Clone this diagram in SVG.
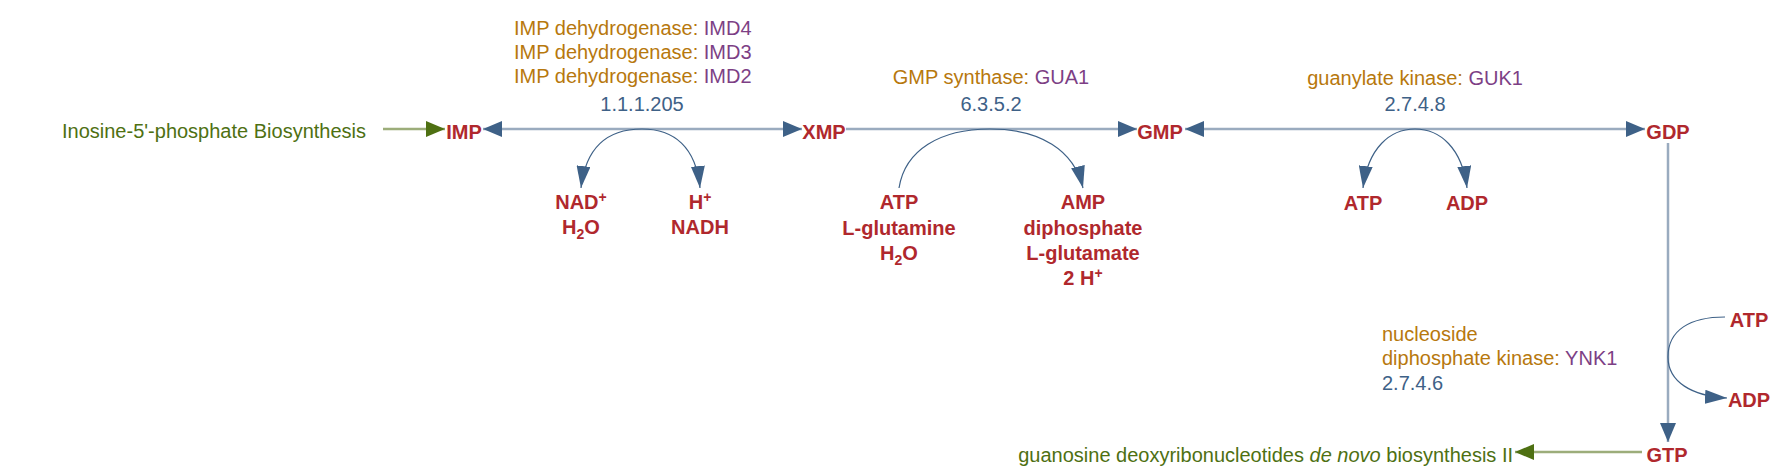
<svg xmlns="http://www.w3.org/2000/svg" width="1782" height="476" viewBox="0 0 1782 476">
<style>
text{font-family:"Liberation Sans",Arial,sans-serif;font-size:20px}
.c{fill:#b0282d;font-weight:bold;text-anchor:middle}
.e{fill:#b7780d}
.g{fill:#7d3f85}
.ec{fill:#3e6187}
.pw{fill:#4e7012}
.main{stroke:#9aabbf;stroke-width:2.5;fill:none}
.gl{stroke:#9cad7a;stroke-width:2.5;fill:none}
.arc{stroke:#3e6187;stroke-width:1.2;fill:none}
.sup{font-size:14px}
</style>
<defs>
<marker id="ab" markerUnits="userSpaceOnUse" markerWidth="20" markerHeight="16" refX="19" refY="8" orient="auto-start-reverse"><path d="M0,0 L19,8 L0,16 z" fill="#3e6187"/></marker>
<marker id="ag" markerUnits="userSpaceOnUse" markerWidth="20" markerHeight="16" refX="19" refY="8" orient="auto"><path d="M0,0 L19,8 L0,16 z" fill="#4e7012"/></marker>
<marker id="aa" markerUnits="userSpaceOnUse" markerWidth="23" markerHeight="14" refX="22" refY="7" orient="auto"><path d="M0,0 L22,7 L0,14 z" fill="#3e6187"/></marker>
</defs>
<g id="connectors">
<line class="gl" x1="383" y1="129" x2="445" y2="129" marker-end="url(#ag)"/>
<line class="main" x1="483" y1="129" x2="802" y2="129" marker-start="url(#ab)" marker-end="url(#ab)"/>
<line class="main" x1="846" y1="129" x2="1137" y2="129" marker-end="url(#ab)"/>
<line class="main" x1="1185" y1="129" x2="1645" y2="129" marker-start="url(#ab)" marker-end="url(#ab)"/>
<line class="main" x1="1668" y1="143" x2="1668" y2="442" marker-end="url(#ab)"/>
<line class="gl" x1="1642" y1="452" x2="1515" y2="452" marker-end="url(#ag)"/>
<path class="arc" d="M642,129 C610,129 586,145 581,188" marker-end="url(#aa)"/>
<path class="arc" d="M642,129 C674,129 696,147 700,188" marker-end="url(#aa)"/>
<path class="arc" d="M899,188 C905,150 940,129 990,129 C1040,129 1074,150 1083,188" marker-end="url(#aa)"/>
<path class="arc" d="M1415,129 C1390,129 1368,148 1363,188" marker-end="url(#aa)"/>
<path class="arc" d="M1415,129 C1440,129 1462,148 1467,188" marker-end="url(#aa)"/>
<path class="arc" d="M1725,317 C1690,317 1668,330 1668,357 C1668,382 1692,396 1727,398" marker-end="url(#aa)"/>
</g>
<g id="pw-in"><text class="pw" x="62" y="138">Inosine-5'-phosphate Biosynthesis</text></g>
<g id="pw-out"><text class="pw" x="1513" y="462" text-anchor="end">guanosine deoxyribonucleotides <tspan font-style="italic">de novo</tspan> biosynthesis II</text></g>
<g id="IMP"><text class="c" x="464" y="139">IMP</text></g>
<g id="XMP"><text class="c" x="824" y="139">XMP</text></g>
<g id="GMP"><text class="c" x="1160" y="139">GMP</text></g>
<g id="GDP"><text class="c" x="1668" y="139">GDP</text></g>
<g id="GTP"><text class="c" x="1667" y="462">GTP</text></g>
<g id="enz1">
<text x="514" y="35"><tspan class="e">IMP dehydrogenase:  </tspan><tspan class="g">IMD4</tspan></text>
<text x="514" y="59"><tspan class="e">IMP dehydrogenase:  </tspan><tspan class="g">IMD3</tspan></text>
<text x="514" y="83"><tspan class="e">IMP dehydrogenase:  </tspan><tspan class="g">IMD2</tspan></text>
<text class="ec" x="642" y="111" text-anchor="middle">1.1.1.205</text>
</g>
<g id="side1">
<text class="c" x="581" y="209">NAD<tspan class="sup" dy="-7">+</tspan></text>
<text class="c" x="581" y="234">H<tspan class="sup" dy="5">2</tspan><tspan dy="-5">O</tspan></text>
<text class="c" x="700" y="209">H<tspan class="sup" dy="-7">+</tspan></text>
<text class="c" x="700" y="234">NADH</text>
</g>
<g id="enz2">
<text x="991" y="84" text-anchor="middle"><tspan class="e">GMP synthase:  </tspan><tspan class="g">GUA1</tspan></text>
<text class="ec" x="991" y="111" text-anchor="middle">6.3.5.2</text>
</g>
<g id="side2">
<text class="c" x="899" y="209">ATP</text>
<text class="c" x="899" y="235">L-glutamine</text>
<text class="c" x="899" y="260">H<tspan class="sup" dy="5">2</tspan><tspan dy="-5">O</tspan></text>
<text class="c" x="1083" y="209">AMP</text>
<text class="c" x="1083" y="235">diphosphate</text>
<text class="c" x="1083" y="260">L-glutamate</text>
<text class="c" x="1083" y="285">2 H<tspan class="sup" dy="-7">+</tspan></text>
</g>
<g id="enz3">
<text x="1415" y="85" text-anchor="middle"><tspan class="e">guanylate kinase:  </tspan><tspan class="g">GUK1</tspan></text>
<text class="ec" x="1415" y="111" text-anchor="middle">2.7.4.8</text>
</g>
<g id="side3">
<text class="c" x="1363" y="210">ATP</text>
<text class="c" x="1467" y="210">ADP</text>
</g>
<g id="enz4">
<text class="e" x="1382" y="341">nucleoside</text>
<text x="1382" y="365"><tspan class="e">diphosphate kinase:  </tspan><tspan class="g">YNK1</tspan></text>
<text class="ec" x="1382" y="390">2.7.4.6</text>
</g>
<g id="side4">
<text class="c" x="1749" y="327">ATP</text>
<text class="c" x="1749" y="407">ADP</text>
</g>
</svg>
